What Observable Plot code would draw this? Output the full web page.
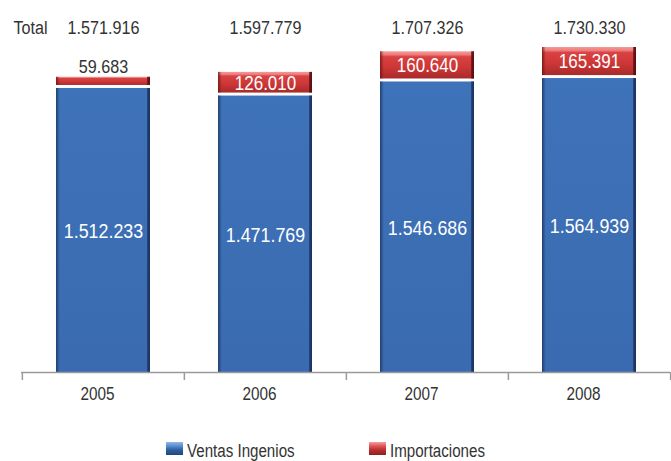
<!DOCTYPE html>
<html>
<head>
<meta charset="utf-8">
<script src="https://cdn.jsdelivr.net/npm/d3@7"></script>
<script src="https://cdn.jsdelivr.net/npm/@observablehq/plot@0.6"></script>
<style>
  html, body { margin: 0; padding: 0; background: #fff; }
  body { width: 671px; height: 461px; overflow: hidden; font-family: "Liberation Sans", Arial, sans-serif; }
  #legend { position: relative; height: 21px; font-size: 18px; color: #333; }
  .item { position: absolute; top: 2px; height: 18px; line-height: 18px; }
  .sw { position: absolute; top: 0px; left: 0; width: 17px; height: 13px; }
  .lbl { position: absolute; top: 0; left: 21px; white-space: nowrap; transform: scaleX(0.84); transform-origin: 0 0; }
</style>
</head>
<body>
<div id="chart"></div>
<div id="legend"></div>
<script>
const years = ["2005", "2006", "2007", "2008"];
const ventas = [1512233, 1471769, 1546686, 1564939];
const importaciones = [59683, 126010, 160640, 165391];
const totales = [1571916, 1597779, 1707326, 1730330];
const seriesNames = ["Ventas Ingenios", "Importaciones"];
const totalLabel = "Total";

const W = 671, H = 440, mL = 21, mR = 1, mT = 47, mB = 68;
const halfStep = (W - mL - mR) / years.length / 2;
const FONT = '"Liberation Sans", Arial, sans-serif';
const NARROW = 0.85;

const loc = d3.formatLocale({decimal: ",", thousands: ".", grouping: [3], currency: ["", ""]});
const fmt = loc.format(",d");

const rows = years.map((y, i) => ({year: y, ventas: ventas[i], imp: importaciones[i], total: totales[i], base: ventas[i], top: ventas[i] + importaciones[i]}));

const chart = Plot.plot({
  width: W, height: H,
  marginLeft: mL, marginRight: mR, marginTop: mT, marginBottom: mB,
  style: {fontFamily: FONT, background: "transparent"},
  x: {domain: years, paddingInner: 0.42, paddingOuter: 0.21, axis: null, label: null},
  y: {domain: [0, d3.max(rows, d => d.top)], axis: null},
  marks: [
    Plot.barY(rows, {x: "year", y1: 0, y2: "ventas", fill: "url(#gBlue)"}),
    Plot.barY(rows, {x: "year", y1: 0, y2: "ventas", fill: "url(#gEdgeB)"}),
    Plot.barY(rows, {x: "year", y1: "base", y2: "top", insetBottom: 3, fill: "url(#gRed)"}),
    Plot.barY(rows, {x: "year", y1: "base", y2: "top", insetBottom: 3, fill: "url(#gEdgeR)"}),
    Plot.ruleY([0], {stroke: "#9a9a9a", strokeWidth: 1.5}),
    Plot.axisX({ticks: years, tickSize: 8, tickFormat: () => "", label: null, dx: -halfStep, stroke: "#9a9a9a", strokeWidth: 1.5}),
    Plot.axisX({ticks: [years[years.length - 1]], tickSize: 8, tickFormat: () => "", label: null, dx: halfStep, stroke: "#9a9a9a", strokeWidth: 1.5}),
    Plot.axisX({ticks: years, tickSize: 0, tickPadding: 15, label: null, fontSize: 18, fill: "#333", dx: -6}),
    // Blue segment labels
    Plot.text(rows, {x: "year", y: d => d.ventas / 2, text: d => fmt(d.ventas), fill: "white", fontSize: 21, dy: 1}),
    // Red labels inside
    Plot.text(rows.filter(d => d.imp >= 100000), {x: "year", y: d => d.base + d.imp / 2, text: d => fmt(d.imp), fill: "white", fontSize: 20, dy: -1}),
    // Red labels outside (small)
    Plot.text(rows.filter(d => d.imp < 100000), {x: "year", y: "top", text: d => fmt(d.imp), fill: "#333", fontSize: 19, lineAnchor: "bottom", dy: -4}),
    // Totals row
    Plot.text(rows, {x: "year", frameAnchor: "top", text: d => fmt(d.total), fill: "#333", fontSize: 19, dy: -27}),
    Plot.text([totalLabel], {frameAnchor: "top-left", text: d => d, fill: "#333", fontSize: 19, dy: -27, dx: -8, textAnchor: "start"})
  ]
});

chart.insertAdjacentHTML("afterbegin", `
<defs>
  <linearGradient id="gBlue" x1="0" y1="0" x2="0" y2="1">
    <stop offset="0" stop-color="#3e72b9"/>
    <stop offset="1" stop-color="#3a6bb0"/>
  </linearGradient>
  <linearGradient id="gEdgeB" x1="0" y1="0" x2="1" y2="0">
    <stop offset="0" stop-color="#1d3a68" stop-opacity="0.9"/>
    <stop offset="0.025" stop-color="#1d3a68" stop-opacity="0.35"/>
    <stop offset="0.04" stop-color="#1d3a68" stop-opacity="0"/>
    <stop offset="0.965" stop-color="#1d3a68" stop-opacity="0"/>
    <stop offset="0.975" stop-color="#1a3360" stop-opacity="0.85"/>
    <stop offset="1" stop-color="#1a3360" stop-opacity="1"/>
  </linearGradient>
  <linearGradient id="gRed" x1="0" y1="0" x2="0" y2="1">
    <stop offset="0" stop-color="#f39a9a"/>
    <stop offset="0.12" stop-color="#ee7c7c"/>
    <stop offset="0.2" stop-color="#d84242"/>
    <stop offset="0.6" stop-color="#cc3636"/>
    <stop offset="1" stop-color="#a82a2a"/>
  </linearGradient>
  <linearGradient id="gEdgeR" x1="0" y1="0" x2="1" y2="0">
    <stop offset="0" stop-color="#6e1212" stop-opacity="0.8"/>
    <stop offset="0.025" stop-color="#6e1212" stop-opacity="0.3"/>
    <stop offset="0.04" stop-color="#6e1212" stop-opacity="0"/>
    <stop offset="0.965" stop-color="#5a0e0e" stop-opacity="0"/>
    <stop offset="0.975" stop-color="#5a0e0e" stop-opacity="0.85"/>
    <stop offset="1" stop-color="#5a0e0e" stop-opacity="1"/>
  </linearGradient>
</defs>`);

// Condense all texts horizontally around their anchor point (Helvetica Condensed look)
chart.querySelectorAll("text").forEach(t => {
  const x = parseFloat(t.getAttribute("x")) || 0;
  const old = t.getAttribute("transform") || "";
  t.setAttribute("transform", `${old} translate(${x},0) scale(${NARROW},1) translate(${-x},0)`);
});

document.getElementById("chart").appendChild(chart);

const legend = document.getElementById("legend");
const swatches = [
  "linear-gradient(#8fb8ea 0%, #5a8fd0 30%, #2f5f9f 60%, #1f467e 100%)",
  "linear-gradient(#f4a0a0 0%, #e25858 30%, #b83030 60%, #8e2020 100%)"
];
const lefts = [166, 369];
seriesNames.forEach((name, i) => {
  const it = document.createElement("div");
  it.className = "item";
  it.style.left = lefts[i] + "px";
  it.innerHTML = `<div class="sw" style="background:${swatches[i]}"></div><span class="lbl">${name}</span>`;
  legend.appendChild(it);
});
</script>
</body>
</html>
